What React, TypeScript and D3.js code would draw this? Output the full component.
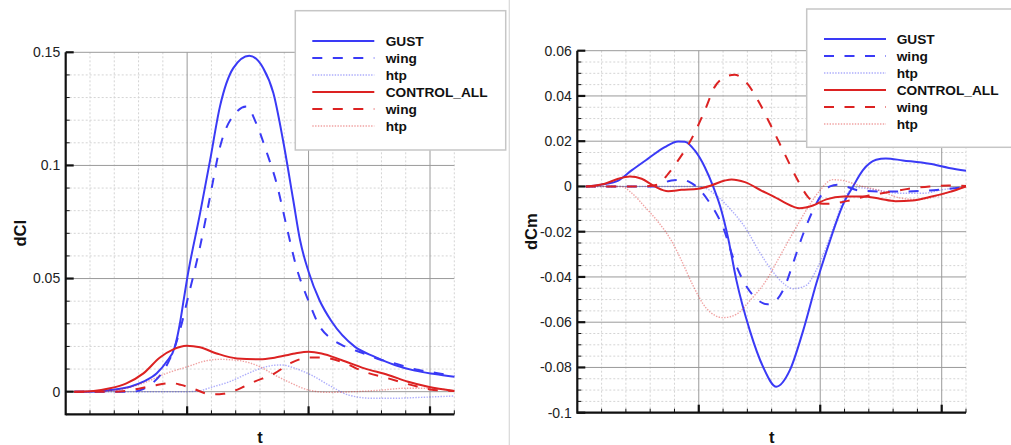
import React from 'react';
import * as d3 from 'd3';

// ---------- shared ----------
const T_DOMAIN: [number, number] = [0, 3.2];
const T_MAJOR = [1, 2, 3];
const LEGEND_LABELS = ['GUST', 'wing', 'htp', 'CONTROL_ALL', 'wing', 'htp'];
const L_Y_TICKS = [0, 0.05, 0.1, 0.15];
const R_Y_TICKS = [-0.1, -0.08, -0.06, -0.04, -0.02, 0, 0.02, 0.04, 0.06];

// ---------- left panel: dCl ----------
const L_GUST_T = [0.07, 0.25, 0.365, 0.53, 0.64, 0.75, 0.83, 0.9, 0.94, 0.97, 1.0, 1.106, 1.188, 1.27, 1.38, 1.512, 1.627, 1.71, 1.79, 1.874, 1.93, 2.0, 2.09, 2.19, 2.38, 2.546, 2.71, 2.875, 3.04, 3.2];
const L_GUST_V = [0, 0.0001, 0.0007, 0.0022, 0.0044, 0.0081, 0.0132, 0.02, 0.03, 0.04, 0.05, 0.0787, 0.102, 0.126, 0.143, 0.1485, 0.143, 0.132, 0.111, 0.0846, 0.0669, 0.053, 0.0404, 0.031, 0.0199, 0.0154, 0.0118, 0.0093, 0.0078, 0.0066];

const L_GWING_T = [0.07, 0.55, 0.62, 0.72, 0.83, 0.9, 0.95, 1.0, 1.106, 1.188, 1.27, 1.38, 1.49, 1.57, 1.654, 1.737, 1.82, 1.9, 2.0, 2.09, 2.19, 2.3, 2.44, 2.6, 2.71, 2.875, 3.04, 3.2];
const L_GWING_V = [0, 0, 0.0008, 0.004, 0.0115, 0.02, 0.029, 0.04, 0.064, 0.086, 0.108, 0.122, 0.126, 0.1185, 0.106, 0.092, 0.0728, 0.055, 0.04, 0.029, 0.0233, 0.02, 0.0172, 0.014, 0.0125, 0.0099, 0.0084, 0.0069];

const L_GHTP_T = [0.07, 1.0, 1.1, 1.215, 1.35, 1.49, 1.6, 1.72, 1.78, 1.89, 2.02, 2.19, 2.33, 2.52, 2.71, 2.93, 3.2];
const L_GHTP_V = [0, 0, 0.0004, 0.0022, 0.0044, 0.0078, 0.0102, 0.0117, 0.0118, 0.0103, 0.0074, 0.0022, -0.0015, -0.0029, -0.0029, -0.0025, -0.0019];

const L_CTRL_T = [0.07, 0.23, 0.365, 0.5, 0.64, 0.776, 0.886, 0.996, 1.106, 1.243, 1.41, 1.6, 1.72, 1.888, 2.0, 2.107, 2.27, 2.46, 2.655, 2.82, 2.985, 3.2];
const L_CTRL_V = [0, 0.0003, 0.0015, 0.0037, 0.0081, 0.0151, 0.0187, 0.0203, 0.0196, 0.0169, 0.0147, 0.0143, 0.015, 0.0169, 0.0176, 0.0169, 0.014, 0.0103, 0.0074, 0.0044, 0.0022, 0.0003];

const L_CWING_T = [0.07, 0.4, 0.55, 0.708, 0.87, 0.95, 1.04, 1.2, 1.3, 1.366, 1.45, 1.545, 1.72, 1.86, 2.0, 2.107, 2.27, 2.46, 2.655, 2.85, 3.0, 3.2];
const L_CWING_V = [0, 0, 0.0008, 0.0025, 0.0038, 0.003, 0.0015, -0.0012, -0.0009, 0, 0.0018, 0.0042, 0.0081, 0.0128, 0.0151, 0.0151, 0.0132, 0.0088, 0.0059, 0.0029, 0.001, 0.0003];

const L_CHTP_T = [0.07, 0.365, 0.5, 0.667, 0.83, 1.0, 1.16, 1.27, 1.435, 1.6, 1.72, 1.86, 2.0, 2.16, 2.38, 2.6, 2.79, 2.985, 3.2];
const L_CHTP_V = [0, 0.0004, 0.0015, 0.0044, 0.0081, 0.011, 0.0137, 0.0143, 0.0137, 0.011, 0.0074, 0.0037, 0.0007, -0.0003, 0, 0.0007, 0.0015, 0.0015, 0.0004];

// ---------- right panel: dCm ----------
const R_GUST_T = [0.07, 0.2, 0.337, 0.447, 0.58, 0.72, 0.83, 0.885, 0.967, 1.05, 1.118, 1.186, 1.24, 1.31, 1.42, 1.53, 1.638, 1.75, 1.86, 1.967, 2.077, 2.19, 2.27, 2.35, 2.46, 2.54, 2.68, 2.9, 3.06, 3.2];
const R_GUST_V = [0, 0.0008, 0.0026, 0.0071, 0.0122, 0.0174, 0.0199, 0.0198, 0.0159, 0.0085, 0, -0.0106, -0.0224, -0.0415, -0.0636, -0.0798, -0.0885, -0.0812, -0.0636, -0.043, -0.0245, -0.0077, 0, 0.0071, 0.0118, 0.0124, 0.0115, 0.01, 0.0082, 0.0069];

const R_GWING_T = [0.07, 0.64, 0.69, 0.775, 0.86, 0.926, 1.0, 1.077, 1.16, 1.2, 1.28, 1.364, 1.46, 1.57, 1.638, 1.707, 1.776, 1.86, 1.94, 2.02, 2.08, 2.14, 2.21, 2.32, 2.49, 2.68, 2.9, 3.06, 3.2];
const R_GWING_V = [0, 0, 0.0012, 0.0026, 0.003, 0.0019, -0.001, -0.0062, -0.0135, -0.018, -0.031, -0.0415, -0.0489, -0.0521, -0.0503, -0.0444, -0.034, -0.0209, -0.0106, -0.003, 0, 0.0007, 0, -0.0018, -0.0022, -0.0022, -0.0018, -0.001, -0.0003];

const R_GHTP_T = [0.07, 1.0, 1.05, 1.16, 1.27, 1.38, 1.5, 1.6, 1.7, 1.776, 1.885, 1.967, 2.05, 2.13, 2.21, 2.3, 2.45, 2.65, 2.85, 3.0, 3.2];
const R_GHTP_V = [0, 0, -0.0006, -0.0047, -0.0106, -0.018, -0.029, -0.037, -0.043, -0.0452, -0.0437, -0.037, -0.0268, -0.015, -0.004, -0.0005, -0.0015, -0.003, -0.003, -0.0015, 0];

const R_CTRL_T = [0.07, 0.227, 0.337, 0.433, 0.53, 0.638, 0.748, 0.858, 0.995, 1.1, 1.214, 1.27, 1.38, 1.515, 1.625, 1.7, 1.83, 1.94, 2.05, 2.19, 2.35, 2.49, 2.62, 2.76, 2.9, 3.06, 3.2];
const R_CTRL_V = [0, 0.0012, 0.0034, 0.0044, 0.0034, 0, -0.0021, -0.0015, -0.001, 0.0004, 0.0026, 0.0031, 0.0019, -0.0018, -0.0047, -0.0069, -0.0096, -0.0084, -0.0057, -0.0044, -0.0044, -0.0054, -0.0065, -0.0062, -0.0047, -0.0025, 0];

const R_CWING_T = [0.07, 0.55, 0.666, 0.748, 0.83, 0.926, 1.05, 1.13, 1.214, 1.296, 1.378, 1.488, 1.6, 1.707, 1.816, 1.9, 1.98, 2.06, 2.15, 2.24, 2.4, 2.57, 2.73, 2.9, 3.06, 3.2];
const R_CWING_V = [0, 0, 0.0009, 0.0056, 0.0115, 0.0196, 0.0336, 0.0439, 0.0483, 0.0494, 0.0468, 0.038, 0.0262, 0.0144, 0.0026, -0.0047, -0.0075, -0.0077, -0.0072, -0.0062, -0.004, -0.0025, -0.001, 0, 0.0004, 0.0002];

const R_CHTP_T = [0.07, 0.36, 0.45, 0.556, 0.666, 0.775, 0.86, 0.95, 1.06, 1.2, 1.31, 1.42, 1.556, 1.666, 1.776, 1.885, 1.994, 2.1, 2.19, 2.32, 2.49, 2.65, 2.8, 2.95, 3.1, 3.2];
const R_CHTP_V = [0, 0, -0.003, -0.009, -0.0157, -0.024, -0.033, -0.0435, -0.0537, -0.058, -0.0565, -0.0505, -0.0415, -0.031, -0.0205, -0.0105, -0.002, 0.003, 0.0026, 0.0004, -0.0018, -0.005, -0.0058, -0.0045, -0.0018, 0];

// ---------- styles ----------
const BLUE = '#3a3af6';
const RED = '#dc2222';
type Style = { color: string; width: number; dash?: string; opacity: number };
const STYLES: Style[] = [
  { color: BLUE, width: 2, opacity: 1 },
  { color: BLUE, width: 2, dash: '10,10.5', opacity: 1 },
  { color: BLUE, width: 1.4, dash: '1.4,1.4', opacity: 0.42 },
  { color: RED, width: 2, opacity: 1 },
  { color: RED, width: 2, dash: '10,10.5', opacity: 1 },
  { color: RED, width: 1.4, dash: '1.4,1.4', opacity: 0.42 },
];

const FONT = '"Liberation Sans", Arial, Helvetica, sans-serif';

const zip = (t: number[], v: number[]) => t.map((tt, i) => [tt, v[i]] as [number, number]);

type PanelProps = {
  xRange: [number, number];
  yDomain: [number, number];
  yRange: [number, number];
  yTicks: number[];
  yMinorStep: number;
  series: [number, number][][];
  yLabel: string;
  yLabelX: number;
  legend: { x: number; y: number; w: number; h: number; lineX: number; textX: number; row0: number };
};

const fmt = (v: number) => String(Number(v.toFixed(4)));

function Panel(p: PanelProps) {
  const x = d3.scaleLinear().domain(T_DOMAIN).range(p.xRange);
  const y = d3.scaleLinear().domain(p.yDomain).range(p.yRange);
  const line = d3
    .line<[number, number]>()
    .x((d) => x(d[0]))
    .y((d) => y(d[1]))
    .curve(d3.curveMonotoneX);

  const nMinorY = Math.round((p.yDomain[1] - p.yDomain[0]) / p.yMinorStep);
  const minorY = d3.range(0, nMinorY + 1).map((i) => +(p.yDomain[0] + i * p.yMinorStep).toFixed(5));
  const minorX = d3.range(0, 17).map((i) => +(i * 0.2).toFixed(5));
  const isMajorY = (v: number) => p.yTicks.some((t) => Math.abs(t - v) < 1e-6);
  const isMajorX = (v: number) => T_MAJOR.some((t) => Math.abs(t - v) < 1e-6);

  const [x0, x1] = p.xRange;
  const [yb, yt] = p.yRange;
  const lg = p.legend;

  return (
    <g>
      {/* minor grid */}
      {minorY.filter((v) => !isMajorY(v)).map((v, i) => (
        <line key={'my' + i} x1={x0} x2={x1} y1={y(v)} y2={y(v)} stroke="#d4d4d4" strokeWidth={1} strokeDasharray="2,2" />
      ))}
      {minorX.filter((v) => !isMajorX(v) && v > 0).map((v, i) => (
        <line key={'mx' + i} x1={x(v)} x2={x(v)} y1={yb} y2={yt} stroke="#d4d4d4" strokeWidth={1} strokeDasharray="2,2" />
      ))}
      {/* major grid */}
      {p.yTicks.map((v, i) => (
        <line key={'gy' + i} x1={x0} x2={x1} y1={y(v)} y2={y(v)} stroke="#9a9a9a" strokeWidth={1} />
      ))}
      {T_MAJOR.map((v, i) => (
        <line key={'gx' + i} x1={x(v)} x2={x(v)} y1={yb} y2={yt} stroke="#9a9a9a" strokeWidth={1} />
      ))}
      {/* series */}
      {p.series.map((s, i) => (
        <path
          key={'s' + i}
          d={line(s) || ''}
          fill="none"
          stroke={STYLES[i].color}
          strokeWidth={STYLES[i].width}
          strokeDasharray={STYLES[i].dash}
          strokeOpacity={STYLES[i].opacity}
        />
      ))}
      {/* axes */}
      <line x1={x0} x2={x0} y1={yb + 1} y2={yt} stroke="#111" strokeWidth={2.2} />
      <line x1={x0} x2={x1} y1={yb} y2={yb} stroke="#111" strokeWidth={2.2} />
      {/* minor ticks */}
      {minorY.filter((v) => !isMajorY(v)).map((v, i) => (
        <line key={'mty' + i} x1={x0} x2={x0 + 4} y1={y(v)} y2={y(v)} stroke="#111" strokeWidth={1} />
      ))}
      {minorX.filter((v) => !isMajorX(v) && v > 0).map((v, i) => (
        <line key={'mtx' + i} x1={x(v)} x2={x(v)} y1={yb} y2={yb - 4} stroke="#111" strokeWidth={1} />
      ))}
      {/* major ticks */}
      {p.yTicks.map((v, i) => (
        <line key={'ty' + i} x1={x0} x2={x0 + 8} y1={y(v)} y2={y(v)} stroke="#111" strokeWidth={2.2} />
      ))}
      {T_MAJOR.map((v, i) => (
        <line key={'tx' + i} x1={x(v)} x2={x(v)} y1={yb} y2={yb - 8} stroke="#111" strokeWidth={2.2} />
      ))}
      {/* tick labels */}
      {p.yTicks.map((v, i) => (
        <text key={'tl' + i} x={x0 - 5.5} y={y(v)} dy="0.35em" textAnchor="end" fontFamily={FONT} fontSize={14} fill="#222">
          {fmt(v)}
        </text>
      ))}
      {/* axis titles */}
      <text
        transform={`translate(${p.yLabelX},${(yb + yt) / 2}) rotate(-90)`}
        textAnchor="middle"
        dy="0.35em"
        fontFamily={FONT}
        fontWeight="bold"
        fontSize={16.5}
        fill="#111"
      >
        {p.yLabel}
      </text>
      <text x={(x0 + x1) / 2} y={442.5} textAnchor="middle" fontFamily={FONT} fontWeight="bold" fontSize={16.5} fill="#111">
        t
      </text>
      {/* legend */}
      <rect x={lg.x} y={lg.y} width={lg.w} height={lg.h} fill="#fff" stroke="#c6c6c6" strokeWidth={1.5} />
      {LEGEND_LABELS.map((lab, i) => {
        const ry = lg.row0 + i * 17;
        const st = STYLES[i];
        return (
          <g key={'lg' + i}>
            <line
              x1={lg.lineX}
              x2={lg.lineX + 62}
              y1={ry}
              y2={ry}
              stroke={st.color}
              strokeWidth={st.width}
              strokeDasharray={st.dash}
              strokeOpacity={st.opacity}
            />
            <text x={lg.textX} y={ry} dy="0.36em" fontFamily={FONT} fontWeight="bold" fontSize={13.7} fill="#111">
              {lab}
            </text>
          </g>
        );
      })}
    </g>
  );
}

export default function App() {
  const leftSeries = [
    zip(L_GUST_T, L_GUST_V),
    zip(L_GWING_T, L_GWING_V),
    zip(L_GHTP_T, L_GHTP_V),
    zip(L_CTRL_T, L_CTRL_V),
    zip(L_CWING_T, L_CWING_V),
    zip(L_CHTP_T, L_CHTP_V),
  ];
  const rightSeries = [
    zip(R_GUST_T, R_GUST_V),
    zip(R_GWING_T, R_GWING_V),
    zip(R_GHTP_T, R_GHTP_V),
    zip(R_CTRL_T, R_CTRL_V),
    zip(R_CWING_T, R_CWING_V),
    zip(R_CHTP_T, R_CHTP_V),
  ];
  return (
    <svg
      width={1011}
      height={445}
      viewBox="0 0 1011 445"
      style={{ position: 'absolute', left: 0, top: 0, background: '#fff' }}
    >
      <rect x={0} y={0} width={1011} height={445} fill="#fff" />
      <Panel
        xRange={[65.7, 454.3]}
        yDomain={[-0.01, 0.15]}
        yRange={[414.3, 52.3]}
        yTicks={L_Y_TICKS}
        yMinorStep={0.01}
        series={leftSeries}
        yLabel="dCl"
        yLabelX={20}
        legend={{ x: 295.3, y: 10.7, w: 210.4, h: 139.3, lineX: 312.3, textX: 385.7, row0: 41 }}
      />
      <line x1={509.3} x2={509.3} y1={0} y2={445} stroke="#d8d8d8" strokeWidth={1.2} />
      <Panel
        xRange={[577.3, 966]}
        yDomain={[-0.1, 0.06]}
        yRange={[412.7, 50.7]}
        yTicks={R_Y_TICKS}
        yMinorStep={0.005}
        series={rightSeries}
        yLabel="dCm"
        yLabelX={531}
        legend={{ x: 806.7, y: 9, w: 215, h: 138.3, lineX: 824, textX: 896.7, row0: 39 }}
      />
    </svg>
  );
}
